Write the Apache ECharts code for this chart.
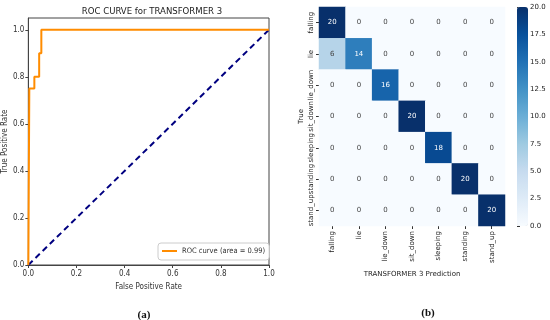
<!DOCTYPE html>
<html><head><meta charset="utf-8">
<script src="https://cdn.jsdelivr.net/npm/echarts@6/dist/echarts.min.js"></script>
<style>html,body{margin:0;padding:0;background:#fff}#c{width:550px;height:320px}</style>
</head><body><div id="c"></div>
<script>
// ROC curve (false positive rate, true positive rate)
var rocFpr = [0, 0.004, 0.004, 0.025, 0.025, 0.045, 0.045, 0.054, 0.054, 1.0];
var rocTpr = [0, 0, 0.75, 0.75, 0.8, 0.8, 0.9, 0.9, 1.0, 1.0];
var diagX = [0, 1];
var diagY = [0, 1];
var rocTicks = [0, 0.2, 0.4, 0.6, 0.8, 1.0];
// Confusion matrix
var classes = ['falling', 'lie', 'lie_down', 'sit_down', 'sleeping', 'standing', 'stand_up'];
var matrix = [
  [20, 0, 0, 0, 0, 0, 0],
  [6, 14, 0, 0, 0, 0, 0],
  [0, 0, 16, 0, 0, 0, 0],
  [0, 0, 0, 20, 0, 0, 0],
  [0, 0, 0, 0, 18, 0, 0],
  [0, 0, 0, 0, 0, 20, 0],
  [0, 0, 0, 0, 0, 0, 20]
];

var narrow = "'DejaVu Sans Condensed','DejaVu Sans',sans-serif";
var dv = "'DejaVu Sans',sans-serif";

var rocData = rocFpr.map(function (x, i) { return [x, rocTpr[i]]; });
var diagData = diagX.map(function (x, i) { return [x, diagY[i]]; });
var heat = [];
matrix.forEach(function (row, r) {
  row.forEach(function (v, c) {
    heat.push({ value: [c, r, v], label: { color: v > 10 ? '#ffffff' : '#444444' } });
  });
});

var chart = echarts.init(document.getElementById('c'), null, { renderer: 'canvas' });
chart.setOption({
  animation: false,
  backgroundColor: '#fff',
  title: [
    { text: 'ROC CURVE for TRANSFORMER 3', left: 147, top: 2, textAlign: 'center',
      textStyle: { fontFamily: narrow, fontSize: 9.5, fontWeight: 'normal', color: '#222' } },
    { text: '(a)', left: 139, top: 305, textAlign: 'center',
      textStyle: { fontFamily: "'Liberation Serif',serif", fontSize: 11, fontWeight: 'bold', color: '#111' } },
    { text: '(b)', left: 423, top: 303, textAlign: 'center',
      textStyle: { fontFamily: "'Liberation Serif',serif", fontSize: 11, fontWeight: 'bold', color: '#111' } }
  ],
  legend: {
    data: ['ROC curve (area = 0.99)'],
    left: 158, top: 243, orient: 'vertical',
    padding: [4, 4, 5, 3],
    borderColor: '#cccccc', borderWidth: 1, borderRadius: 3, backgroundColor: '#fff',
    itemWidth: 15, itemHeight: 2, itemGap: 4,
    textStyle: { fontFamily: narrow, fontSize: 7.5, color: '#333' }
  },
  grid: [
    { left: 27, top: 18, width: 242, height: 247, show: true, borderColor: '#444', borderWidth: 1, backgroundColor: 'transparent' },
    { left: 319, top: 7, width: 186, height: 219 },
    { left: 517, top: 7, width: 11, height: 219 }
  ],
  xAxis: [
    { type: 'value', gridIndex: 0, min: 0, max: 1, interval: 0.2,
      name: 'False Positive Rate', nameLocation: 'middle', nameGap: 18,
      nameTextStyle: { fontFamily: narrow, fontSize: 8, color: '#333' },
      axisLine: { show: true, lineStyle: { color: '#444' } },
      axisTick: { show: true, length: 3, lineStyle: { color: '#444' } },
      splitLine: { show: false },
      axisLabel: { fontFamily: narrow, fontSize: 8, color: '#333', margin: 5,
        formatter: function (v) { return v.toFixed(1); } } },
    { type: 'category', gridIndex: 1, data: classes,
      name: 'TRANSFORMER 3 Prediction', nameLocation: 'middle', nameGap: 40,
      nameTextStyle: { fontFamily: dv, fontSize: 7, color: '#222' },
      axisLine: { show: false },
      axisTick: { show: true, alignWithLabel: true, length: 3, lineStyle: { color: '#333' } },
      splitLine: { show: false },
      axisLabel: { rotate: 90, fontFamily: dv, fontSize: 7, color: '#222', margin: 5, interval: 0 } },
    { type: 'value', gridIndex: 2, show: false, min: 0, max: 1 }
  ],
  yAxis: [
    { type: 'value', gridIndex: 0, min: 0, max: 1.05,
      name: 'True Positive Rate', nameLocation: 'middle', nameGap: 18, nameRotate: 90,
      nameTextStyle: { fontFamily: narrow, fontSize: 8, color: '#333' },
      axisLine: { show: true, lineStyle: { color: '#444' } },
      axisTick: { show: true, length: 3, customValues: rocTicks, lineStyle: { color: '#444' } },
      splitLine: { show: false },
      axisLabel: { fontFamily: narrow, fontSize: 8, color: '#333', margin: 4, customValues: rocTicks,
        formatter: function (v) { return v.toFixed(1); } } },
    { type: 'category', gridIndex: 1, data: classes, inverse: true,
      name: 'True', nameLocation: 'middle', nameGap: 14, nameRotate: 90,
      nameTextStyle: { fontFamily: dv, fontSize: 7, color: '#222' },
      axisLine: { show: false },
      axisTick: { show: true, alignWithLabel: true, length: 3, lineStyle: { color: '#333' } },
      splitLine: { show: false },
      axisLabel: { rotate: 90, fontFamily: dv, fontSize: 7, color: '#222', margin: 4, interval: 0, align: 'center', verticalAlign: 'bottom' } },
    { type: 'value', gridIndex: 2, position: 'right', min: 0, max: 20, interval: 2.5,
      axisLine: { show: false },
      axisTick: { show: true, length: 3, lineStyle: { color: '#333' } },
      splitLine: { show: false },
      axisLabel: { fontFamily: dv, fontSize: 7, color: '#222', margin: 2,
        formatter: function (v) { return v.toFixed(1); } } }
  ],
  visualMap: {
    type: 'continuous', min: 0, max: 20, seriesIndex: 2, calculable: false,
    left: 517, top: 7, itemWidth: 11, itemHeight: 219, padding: 0, text: null, showLabel: false,
    inRange: { color: ['#f7fbff', '#deebf7', '#c6dbef', '#9ecae1', '#6baed6', '#4292c6', '#2171b5', '#08519c', '#08306b'] }
  },
  series: [
    { name: 'ROC curve (area = 0.99)', type: 'line', xAxisIndex: 0, yAxisIndex: 0,
      data: rocData, symbol: 'none', lineStyle: { color: '#FF8C00', width: 2 }, itemStyle: { color: '#FF8C00' }, z: 3 },
    { name: 'diag', type: 'line', xAxisIndex: 0, yAxisIndex: 0, data: diagData, symbol: 'none',
      lineStyle: { color: '#000080', width: 2, type: [6, 4] }, z: 2 },
    { name: 'cm', type: 'heatmap', xAxisIndex: 1, yAxisIndex: 1, data: heat,
      label: { show: true, fontFamily: dv, fontSize: 7 } },
    { name: 'cbar', type: 'line', xAxisIndex: 2, yAxisIndex: 2, data: [], symbol: 'none' }
  ]
});
</script></body></html>
